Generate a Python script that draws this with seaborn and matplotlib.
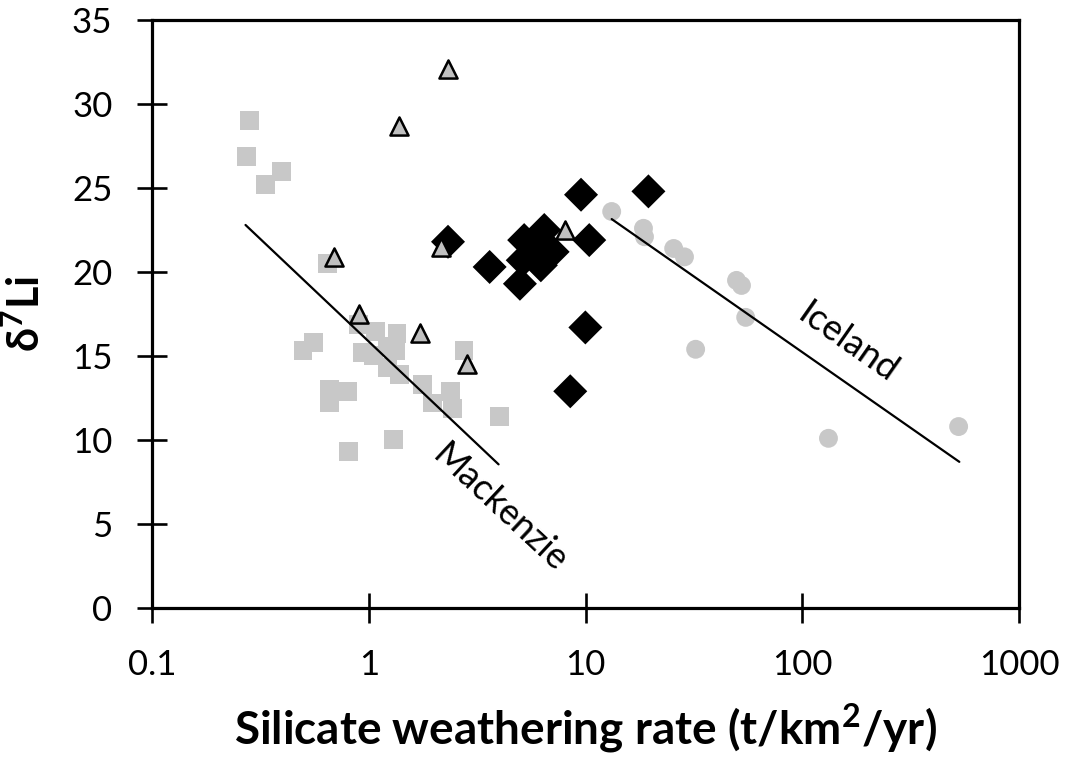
import numpy as np
import pandas as pd
import matplotlib
matplotlib.use("Agg")
import matplotlib.pyplot as plt
from matplotlib.ticker import FixedLocator, NullLocator, FixedFormatter
import seaborn as sns

# ---- data ----
mack_x = [0.281, 0.274, 0.394, 0.333, 0.643, 0.497, 0.557, 0.656, 0.656, 0.795,
          0.90, 1.07, 0.933, 1.05, 1.22, 1.35, 1.33, 1.22, 1.38, 1.77,
          1.96, 2.39, 2.43, 2.75, 3.99, 1.30, 0.81]
mack_y = [29.0, 26.9, 26.0, 25.2, 20.5, 15.35, 15.8, 13.0, 12.2, 12.9,
          16.85, 16.45, 15.2, 15.05, 15.55, 16.35, 15.35, 14.3, 13.9, 13.3,
          12.2, 12.9, 11.9, 15.35, 11.4, 10.05, 9.3]

ice_x = [13.2, 18.5, 18.7, 25.5, 28.6, 49.7, 52.4, 54.8, 32.2, 132, 526]
ice_y = [23.6, 22.6, 22.1, 21.4, 20.9, 19.5, 19.2, 17.3, 15.4, 10.1, 10.8]

dia_x = [2.32, 9.53, 3.61, 4.98, 10.4, 9.98, 8.5, 19.5, 6.45, 5.21, 7.05, 5.13, 5.8, 6.22]
dia_y = [21.8, 24.6, 20.3, 19.3, 21.9, 16.7, 12.9, 24.8, 22.5, 21.9, 21.2, 20.7, 21.3, 20.4]

tri_x = [2.31, 1.38, 0.69, 2.16, 8.03, 0.906, 1.73, 2.85]
tri_y = [32.1, 28.7, 20.9, 21.5, 22.5, 17.5, 16.35, 14.5]

mack_line_x = [0.27, 3.97]
mack_line_y = [22.8, 8.55]
ice_line_x = [13.2, 530]
ice_line_y = [23.15, 8.7]

xtick_vals = [0.1, 1, 10, 100, 1000]
xtick_labels = ["0.1", "1", "10", "100", "1000"]
ytick_vals = [0, 5, 10, 15, 20, 25, 30, 35]

# ---- style ----
sns.set_style("white")
plt.rcParams["font.family"] = ["Lato", "DejaVu Sans"]
plt.rcParams["text.color"] = "black"
plt.rcParams["axes.labelcolor"] = "black"

fig = plt.figure(figsize=(10.66, 7.58), dpi=100)
ax = fig.add_axes([0.1426, 0.1979, 0.956 - 0.1426, 0.9736 - 0.1979])

gray = "#c8c8c8"

df_m = pd.DataFrame({"x": mack_x, "y": mack_y})
df_i = pd.DataFrame({"x": ice_x, "y": ice_y})
df_d = pd.DataFrame({"x": dia_x, "y": dia_y})
df_t = pd.DataFrame({"x": tri_x, "y": tri_y})

sns.scatterplot(data=df_m, x="x", y="y", marker="s", s=185, color=gray,
                edgecolor="none", linewidth=0, ax=ax, zorder=2)
sns.scatterplot(data=df_i, x="x", y="y", marker="o", s=185, color=gray,
                edgecolor="none", linewidth=0, ax=ax, zorder=2)
sns.lineplot(x=mack_line_x, y=mack_line_y, color="black", linewidth=1.6, ax=ax, zorder=3)
sns.lineplot(x=ice_line_x, y=ice_line_y, color="black", linewidth=1.6, ax=ax, zorder=3)
sns.scatterplot(data=df_d, x="x", y="y", marker="D", s=300, color="black",
                edgecolor="none", linewidth=0, ax=ax, zorder=4)
sns.scatterplot(data=df_t, x="x", y="y", marker="^", s=170, color="#c0c0c0",
                edgecolor="black", linewidth=1.8, ax=ax, zorder=5)

ax.set_xscale("log")
ax.set_xlim(0.1, 1000)
ax.set_ylim(0, 35)
ax.xaxis.set_major_locator(FixedLocator(xtick_vals))
ax.xaxis.set_major_formatter(FixedFormatter(xtick_labels))
ax.xaxis.set_minor_locator(NullLocator())
ax.set_yticks(ytick_vals)

for sp in ax.spines.values():
    sp.set_visible(True)
    sp.set_color("black")
    sp.set_linewidth(2.3)

ax.tick_params(axis="both", which="major", direction="inout", length=21,
               width=1.9, color="black", labelsize=25, labelcolor="black",
               bottom=True, left=True, top=False, right=False)
ax.tick_params(axis="x", pad=19)
ax.tick_params(axis="y", pad=18)

ax.set_xlabel("Silicate weathering rate (t/km$^{\\mathregular{2}}$/yr)", fontsize=33,
              fontweight="bold", labelpad=15, color="black")
ax.set_ylabel("δ$^{\\mathregular{7}}$Li", fontsize=31, fontweight="bold", labelpad=18,
              color="black")

ax.text(4.03, 5.95, "Mackenzie", rotation=-43, rotation_mode="anchor",
        ha="center", va="center", fontsize=26, color="black", transform=ax.transData)
ax.text(162, 15.8, "Iceland", rotation=-35, rotation_mode="anchor",
        ha="center", va="center", fontsize=26, color="black", transform=ax.transData)

fig.savefig("out.png", dpi=100)
